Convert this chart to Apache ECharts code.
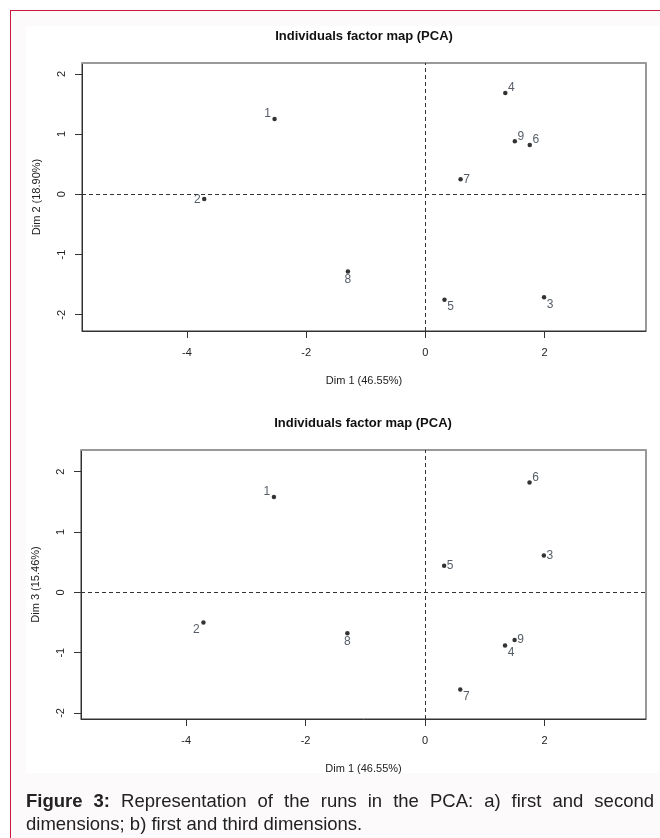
<!DOCTYPE html>
<html>
<head>
<meta charset="utf-8">
<script src="https://cdn.jsdelivr.net/npm/echarts@6/dist/echarts.min.js"></script>
<style>
  html, body { margin: 0; padding: 0; width: 660px; height: 838px; overflow: hidden; background: #fff; }
  #frame { position: absolute; left: 10px; top: 10px; width: 670px; height: 850px;
           border-left: 1.5px solid #c8163c; border-top: 1.5px solid #c8163c; background: #fcfafb; }
  #panel { position: absolute; left: 26px; top: 26px; width: 633px; height: 747px; background: #fff; }
  #chart { position: absolute; left: 0; top: 0; width: 660px; height: 838px; }
  #caption { position: absolute; left: 26px; top: 789px; width: 628px; color: #222;
             font-family: "Liberation Sans", Arial, sans-serif; font-size: 18.5px; line-height: 23px;
             text-align: justify; }
</style>
</head>
<body>
<div id="frame"></div>
<div id="panel"></div>
<div id="chart"></div>
<div id="caption"><b>Figure 3:</b> Representation of the runs in the PCA: a) first and second dimensions; b) first and third dimensions.</div>
<script>
// PCA individual coordinates
var runs = ['1', '2', '3', '4', '5', '6', '7', '8', '9'];
var dim1 = [-2.53, -3.71, 1.99, 1.34, 0.32, 1.75, 0.59, -1.30, 1.50];
var dim2 = [1.25, -0.08, -1.71, 1.68, -1.75, 0.82, 0.25, -1.28, 0.88];
var dim3 = [1.58, -0.50, 0.61, -0.88, 0.44, 1.82, -1.61, -0.68, -0.79];
var xTicks = [-4, -2, 0, 2];
var yTicks = [-2, -1, 0, 1, 2];
var titleText = 'Individuals factor map (PCA)';
var xName = 'Dim 1 (46.55%)';
var yName2 = 'Dim 2 (18.90%)';
var yName3 = 'Dim 3 (15.46%)';

// where each label sits relative to its point (like R's autoLab)
var side12 = ['lt', 'l', 'rb', 'rt', 'rb', 'rt', 'r', 'b', 'rt'];
var side13 = ['lt', 'lb', 'r', 'rb', 'r', 'rt', 'rb', 'b', 'r'];
var offsets = {
    lt: [-7, -5], l: [-7, 1], lb: [-7, 7],
    rt: [6, -5], r: [6, 0], rb: [6, 7],
    b: [0, 8]
};

var font = '"Liberation Sans", Arial, sans-serif';
var ink = '#222';

function bottomAxis(gi, name) {
    return {
        type: 'value', gridIndex: gi, position: 'bottom',
        min: -5.76, max: 3.70,
        axisLine: { show: true, onZero: false, lineStyle: { color: '#333', width: 1 } },
        axisTick: { show: true, length: 7, customValues: xTicks, lineStyle: { color: '#333' } },
        axisLabel: { customValues: xTicks, margin: 16, fontSize: 11, color: ink, fontFamily: font },
        splitLine: { show: false },
        name: name, nameLocation: 'middle', nameGap: 44,
        nameTextStyle: { fontSize: 11, color: ink, fontFamily: font }
    };
}

function topAxis(gi) {
    return {
        type: 'value', gridIndex: gi, position: 'top',
        min: -5.76, max: 3.70,
        axisLine: { show: true, onZero: false, lineStyle: { color: '#999', width: 2 } },
        axisTick: { show: false }, axisLabel: { show: false }, splitLine: { show: false }
    };
}

function leftAxis(gi, lo, hi, name) {
    return {
        type: 'value', gridIndex: gi, position: 'left', min: lo, max: hi,
        axisLine: { show: true, onZero: false, lineStyle: { color: '#333', width: 1 } },
        axisTick: { show: true, length: 7, customValues: yTicks, lineStyle: { color: '#333' } },
        axisLabel: { customValues: yTicks, rotate: 90, margin: 15, fontSize: 11, color: ink, fontFamily: font },
        splitLine: { show: false },
        name: name, nameLocation: 'middle', nameGap: 40,
        nameTextStyle: { fontSize: 11, color: ink, fontFamily: font }
    };
}

function pointSeries(xi, yi, yVals, sides) {
    return {
        type: 'scatter', xAxisIndex: xi, yAxisIndex: yi,
        symbol: 'circle', symbolSize: 4.5,
        itemStyle: { color: '#000' },
        label: {
            show: true, position: 'inside', formatter: '{b}',
            fontSize: 12, color: '#2b3340', fontFamily: font
        },
        data: runs.map(function (r, i) {
            return { name: r, value: [dim1[i], yVals[i]], label: { offset: offsets[sides[i]] } };
        }),
        markLine: {
            silent: true, symbol: 'none', animation: false,
            label: { show: false },
            lineStyle: { type: [4, 3], color: '#333', width: 1 },
            data: [{ xAxis: 0 }, { yAxis: 0 }]
        },
        animation: false
    };
}

var chart = echarts.init(document.getElementById('chart'));
chart.setOption({
    backgroundColor: 'transparent',
    animation: false,
    grid: [
        { left: 82, top: 63, width: 564, height: 268, show: true, borderColor: '#333', borderWidth: 1 },
        { left: 81, top: 450, width: 565, height: 269, show: true, borderColor: '#333', borderWidth: 1 }
    ],
    xAxis: [bottomAxis(0, xName), bottomAxis(1, xName), topAxis(0), topAxis(1)],
    yAxis: [leftAxis(0, -2.27, 2.18, yName2), leftAxis(1, -2.10, 2.36, yName3)],
    series: [pointSeries(0, 0, dim2, side12), pointSeries(1, 1, dim3, side13)],
    graphic: [
        { type: 'text', x: 364, y: 36, style: { text: titleText, align: 'center', verticalAlign: 'middle',
          font: 'bold 13px ' + font, fill: '#111' } },
        { type: 'text', x: 363, y: 423, style: { text: titleText, align: 'center', verticalAlign: 'middle',
          font: 'bold 13px ' + font, fill: '#111' } }
    ]
});
</script>
</body>
</html>
